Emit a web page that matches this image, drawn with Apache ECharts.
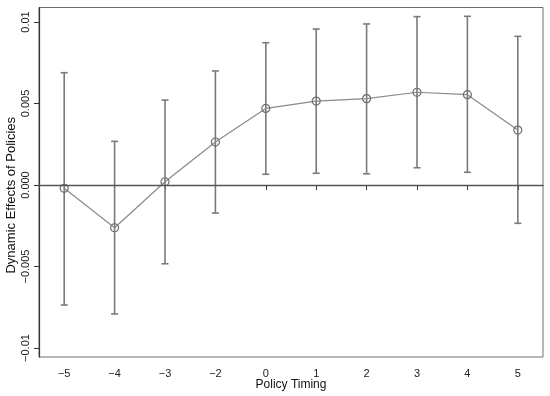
<!DOCTYPE html>
<html>
<head>
<meta charset="utf-8">
<script src="https://cdn.jsdelivr.net/npm/echarts@6/dist/echarts.min.js"></script>
<style>html,body{margin:0;padding:0;background:#fff;}#c{width:550px;height:396px;}</style>
</head>
<body>
<div id="c"></div>
<script>
var categories = ['\u22125','\u22124','\u22123','\u22122','0','1','2','3','4','5'];
var estimates = [-0.0002, -0.00262, 0.0002, 0.00264, 0.0047, 0.00515, 0.0053, 0.00569, 0.00554, 0.00337];
var upper = [0.00689, 0.00268, 0.00521, 0.0070, 0.00873, 0.00957, 0.00988, 0.01033, 0.01035, 0.00912];
var lower = [-0.00736, -0.00791, -0.00483, -0.00172, 0.00066, 0.00072, 0.00069, 0.00106, 0.00078, -0.00235];
var yTicks = [-0.01, -0.005, 0, 0.005, 0.01];
var yTickLabels = ['\u22120.01', '\u22120.005', '0.000', '0.005', '0.01'];

var chart = echarts.init(document.getElementById('c'), null, {renderer: 'canvas'});
var font = 'Liberation Sans, Arial, sans-serif';
var barColor = '#7a7a7a';

var errData = categories.map(function (c, i) { return [i, lower[i], upper[i]]; });

chart.setOption({
  animation: false,
  backgroundColor: '#ffffff',
  grid: {left: 39, right: 7, top: 7.5, bottom: 39, show: true, borderColor: '#6e6e6e', borderWidth: 1, containLabel: false, outerBoundsMode: 'none'},
  xAxis: {
    type: 'category',
    data: categories,
    boundaryGap: true,
    name: 'Policy Timing',
    nameLocation: 'middle',
    nameGap: 22,
    nameMoveOverlap: false,
    nameTextStyle: {fontFamily: font, fontSize: 12, color: '#111'},
    axisLine: {show: true, lineStyle: {color: '#333', width: 1.2}},
    axisTick: {show: true, alignWithLabel: true, length: 5, lineStyle: {color: '#333'}},
    axisLabel: {fontFamily: font, fontSize: 11, color: '#222', margin: 11},
    splitLine: {show: false}
  },
  yAxis: {
    type: 'value',
    min: -0.01055,
    max: 0.01089,
    name: 'Dynamic Effects of Policies',
    nameLocation: 'middle',
    nameGap: 21,
    nameMoveOverlap: false,
    nameRotate: 90,
    nameTextStyle: {fontFamily: font, fontSize: 13, color: '#111', padding: [0, 26, 0, 0]},
    axisLine: {show: true, lineStyle: {color: '#333', width: 1.2}},
    axisTick: {show: true, length: 5, lineStyle: {color: '#333'}, customValues: yTicks},
    axisLabel: {
      fontFamily: font, fontSize: 11, color: '#222', rotate: 90, margin: 8,
      customValues: yTicks,
      formatter: function (v) {
        for (var i = 0; i < yTicks.length; i++) { if (Math.abs(v - yTicks[i]) < 1e-9) return yTickLabels[i]; }
        return '';
      }
    },
    splitLine: {show: false}
  },
  series: [
    {
      type: 'custom',
      data: errData,
      z: 2,
      renderItem: function (params, api) {
        var x = api.value(0);
        var lo = api.coord([x, api.value(1)]);
        var hi = api.coord([x, api.value(2)]);
        var hw = 3.5;
        var st = {stroke: barColor, lineWidth: 1.6};
        return {
          type: 'group',
          children: [
            {type: 'line', shape: {x1: lo[0], y1: lo[1], x2: hi[0], y2: hi[1]}, style: st},
            {type: 'line', shape: {x1: lo[0] - hw, y1: lo[1], x2: lo[0] + hw, y2: lo[1]}, style: st},
            {type: 'line', shape: {x1: hi[0] - hw, y1: hi[1], x2: hi[0] + hw, y2: hi[1]}, style: st}
          ]
        };
      }
    },
    {
      type: 'line',
      data: estimates,
      z: 3,
      symbol: 'circle',
      symbolSize: 8,
      showAllSymbol: true,
      lineStyle: {color: '#8a8a8a', width: 1.2},
      itemStyle: {color: 'rgba(255,255,255,0)', borderColor: '#6e6e6e', borderWidth: 1.2},
      markLine: {
        silent: true,
        symbol: ['none', 'none'],
        label: {show: false},
        lineStyle: {color: '#555', width: 1.3, type: 'solid'},
        data: [{yAxis: 0}]
      }
    }
  ]
});
</script>
</body>
</html>
